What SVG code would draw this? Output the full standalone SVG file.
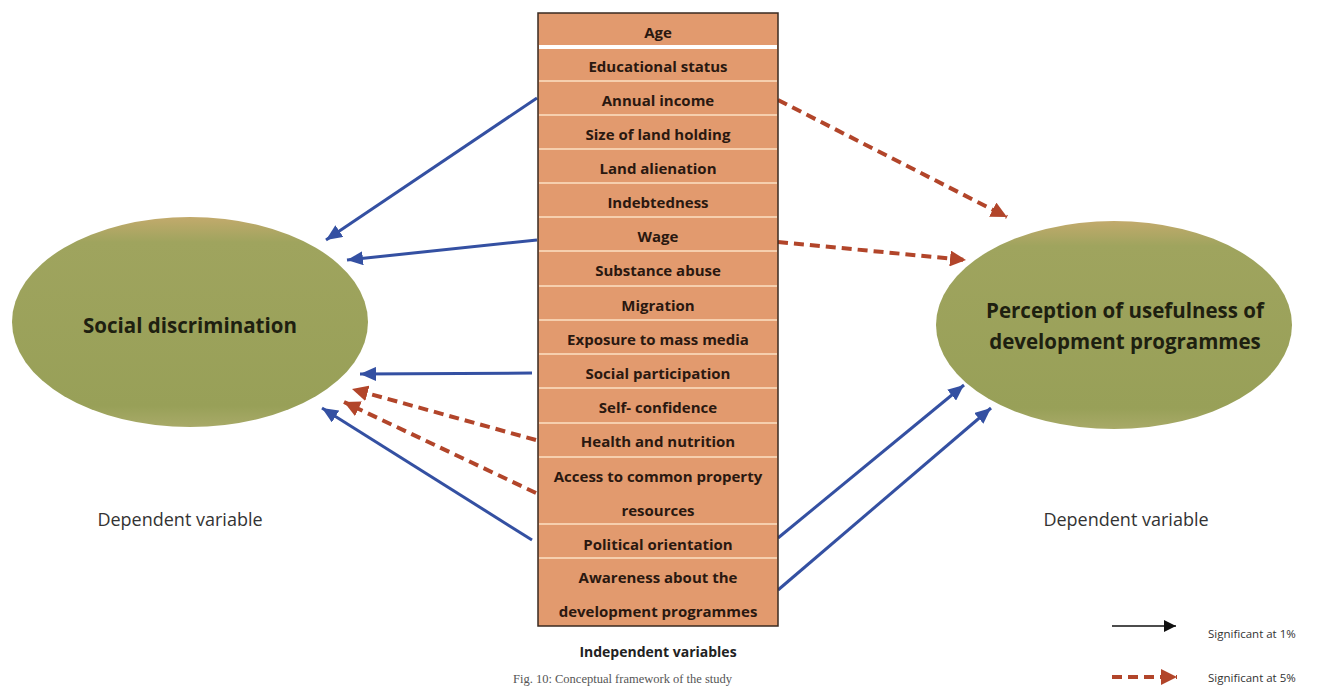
<svg xmlns="http://www.w3.org/2000/svg" width="1318" height="687" viewBox="0 0 1318 687">
<defs>
<style>
.row{font-family:"Open Sans","Liberation Sans",sans-serif;font-weight:bold;font-size:15px;fill:#2a1810;text-anchor:middle;dominant-baseline:central}
.sep{stroke:#f6cfae;stroke-width:2}
.big{font-family:"Open Sans","Liberation Sans",sans-serif;font-weight:bold;font-size:20.5px;fill:#1e2010;text-anchor:middle;dominant-baseline:central}
.dep{font-family:"Open Sans","Liberation Sans",sans-serif;font-size:18px;fill:#333;text-anchor:middle;dominant-baseline:central}
.blue{stroke:#3450a2;stroke-width:3;fill:none;marker-end:url(#ab)}
.red{stroke:#b2452a;stroke-width:4;fill:none;stroke-dasharray:10 6;marker-end:url(#ar)}
.leg{font-family:"Open Sans","Liberation Sans",sans-serif;font-size:11.5px;fill:#333;dominant-baseline:central}
</style>
<marker id="ab" markerUnits="userSpaceOnUse" markerWidth="18" markerHeight="14" refX="16" refY="7" orient="auto"><path d="M0,0 L16,7 L0,14 Z" fill="#3450a2"/></marker>
<marker id="ar" markerUnits="userSpaceOnUse" markerWidth="18" markerHeight="16" refX="16" refY="8" orient="auto"><path d="M0,0 L16,8 L0,16 Z" fill="#b2452a"/></marker>
<marker id="ak" markerUnits="userSpaceOnUse" markerWidth="14" markerHeight="12" refX="12" refY="6" orient="auto"><path d="M0,0 L12,6 L0,12 Z" fill="#111"/></marker>
<linearGradient id="eg" x1="0" y1="0" x2="0" y2="1">
<stop offset="0" stop-color="#c2aa6c"/>
<stop offset="0.12" stop-color="#9fa45e"/>
<stop offset="0.9" stop-color="#98a058"/>
<stop offset="1" stop-color="#a8aa68"/>
</linearGradient>
</defs>
<rect width="1318" height="687" fill="#ffffff"/>

<g id="connectors">
<line class="blue" x1="537" y1="98" x2="326" y2="240"/>
<line class="blue" x1="537" y1="240" x2="347" y2="260"/>
<line class="blue" x1="532" y1="373" x2="360" y2="374"/>
<line class="red" x1="536" y1="440" x2="352" y2="389"/>
<line class="red" x1="536" y1="493" x2="344" y2="402"/>
<line class="blue" x1="532" y1="540" x2="322" y2="408"/>
<line class="red" x1="778" y1="100" x2="1007" y2="217"/>
<line class="red" x1="778" y1="242" x2="966" y2="260"/>
<line class="blue" x1="778" y1="538" x2="964" y2="385"/>
<line class="blue" x1="778" y1="590" x2="991" y2="408"/>
</g>

<g id="independent-variables">
<rect x="538" y="13" width="240" height="613" fill="#e29a6e" stroke="#3a2a20" stroke-width="1.5"/>
<line x1="539" y1="47" x2="777" y2="47" stroke="#ffffff" stroke-width="4"/>
<line class="sep" x1="539" y1="81" x2="777" y2="81"/>
<line class="sep" x1="539" y1="115" x2="777" y2="115"/>
<line class="sep" x1="539" y1="149" x2="777" y2="149"/>
<line class="sep" x1="539" y1="183" x2="777" y2="183"/>
<line class="sep" x1="539" y1="217" x2="777" y2="217"/>
<line class="sep" x1="539" y1="251" x2="777" y2="251"/>
<line class="sep" x1="539" y1="286" x2="777" y2="286"/>
<line class="sep" x1="539" y1="320" x2="777" y2="320"/>
<line class="sep" x1="539" y1="354" x2="777" y2="354"/>
<line class="sep" x1="539" y1="388" x2="777" y2="388"/>
<line class="sep" x1="539" y1="423" x2="777" y2="423"/>
<line class="sep" x1="539" y1="457" x2="777" y2="457"/>
<line class="sep" x1="539" y1="524" x2="777" y2="524"/>
<line class="sep" x1="539" y1="558" x2="777" y2="558"/>
<text class="row" x="658" y="32">Age</text>
<text class="row" x="658" y="66">Educational status</text>
<text class="row" x="658" y="100">Annual income</text>
<text class="row" x="658" y="134">Size of land holding</text>
<text class="row" x="658" y="168">Land alienation</text>
<text class="row" x="658" y="202">Indebtedness</text>
<text class="row" x="658" y="236">Wage</text>
<text class="row" x="658" y="270">Substance abuse</text>
<text class="row" x="658" y="305">Migration</text>
<text class="row" x="658" y="339">Exposure to mass media</text>
<text class="row" x="658" y="373">Social participation</text>
<text class="row" x="658" y="407">Self- confidence</text>
<text class="row" x="658" y="441">Health and nutrition</text>
<text class="row" x="658" y="476">Access to common property</text>
<text class="row" x="658" y="510">resources</text>
<text class="row" x="658" y="544">Political orientation</text>
<text class="row" x="658" y="577">Awareness about the</text>
<text class="row" x="658" y="611">development programmes</text>
<text class="row" x="658" y="651" style="font-size:14px;fill:#222">Independent variables</text>
</g>

<g id="social-discrimination">
<ellipse cx="190" cy="322" rx="178" ry="105" fill="url(#eg)"/>
<text class="big" x="190" y="325">Social discrimination</text>
<text class="dep" x="180" y="519">Dependent variable</text>
</g>

<g id="perception">
<ellipse cx="1114" cy="325" rx="178" ry="104" fill="url(#eg)"/>
<text class="big" x="1125" y="310">Perception of usefulness of</text>
<text class="big" x="1125" y="341">development programmes</text>
<text class="dep" x="1126" y="519">Dependent variable</text>
</g>

<g id="legend">
<line x1="1112" y1="626" x2="1176" y2="626" stroke="#111" stroke-width="1.5" marker-end="url(#ak)"/>
<text class="leg" x="1208" y="633">Significant at 1%</text>
<line x1="1112" y1="677" x2="1177" y2="677" stroke="#b2452a" stroke-width="4" stroke-dasharray="10 6" marker-end="url(#ar)"/>
<text class="leg" x="1208" y="677">Significant at 5%</text>
</g>

<text x="513" y="683" font-family="Liberation Serif, serif" font-size="12.5" fill="#555">Fig. 10: Conceptual framework of the study</text>
</svg>
